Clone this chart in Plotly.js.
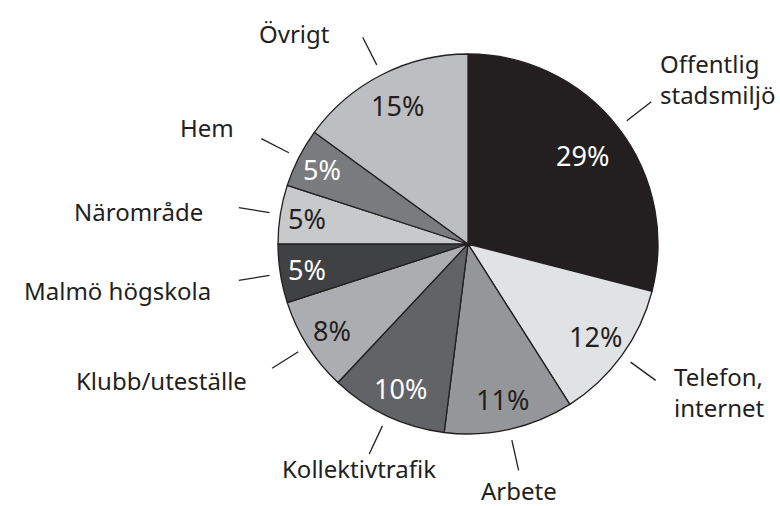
<!DOCTYPE html>
<html>
<head>
<meta charset="utf-8">
<script src="https://cdn.plot.ly/plotly-3.0.1.min.js"></script>
<style>html,body{margin:0;padding:0;background:#fff}#chart{width:780px;height:506px}</style>
</head>
<body>
<div id="chart"></div>
<script>
const labels = ['Offentlig<br>stadsmiljö','Telefon,<br>internet','Arbete','Kollektivtrafik','Klubb/uteställe','Malmö högskola','Närområde','Hem','Övrigt'];
const values = [29,12,11,10,8,5,5,5,15];
const colors = ['#231f20','#e1e2e4','#959699','#626366','#acadb0','#404143','#c8c9cb','#7a7b7e','#bdbec1'];
const pctColors = ['#ffffff','#231f20','#231f20','#ffffff','#231f20','#ffffff','#231f20','#ffffff','#231f20'];

// layout only: label anchor side and pixel nudge from the leader-line end
const labelAnchor = ['left','left','center','center','right','right','right','right','right'];
const labelNudge = [[7,-23],[16,12],[0,20],[-10,15],[-23,12],[-26,10],[-34,4],[-25,-11],[-31,-4]];

const W = 780, H = 506;
const cx = 468, cy = 244, R = 190;
const ink = '#231f20';
const font = 'Noto Sans, Open Sans, sans-serif';

const total = values.reduce((a,b)=>a+b,0);
const toPaper = (x,y) => ({x: x/W, y: 1 - y/H});
const pt = (theta, r) => ({x: cx + r*Math.sin(theta), y: cy - r*Math.cos(theta)});

const annotations = [], shapes = [];
let cum = 0;
values.forEach((v,i) => {
  const th = 2*Math.PI*(cum + v/2)/total;
  cum += v;
  // percentage label
  const rp = R*(0.88 - 0.004*v);
  const pp = pt(th, rp);
  const p = toPaper(pp.x, pp.y);
  annotations.push({xref:'paper', yref:'paper', x:p.x, y:p.y, text: v + '%', showarrow:false,
    xanchor:'center', yanchor:'middle', font:{family:font, size:27, color:pctColors[i]}});
  // leader line
  const a = pt(th, 201), b = pt(th, 232);
  const pa = toPaper(a.x,a.y), pb = toPaper(b.x,b.y);
  shapes.push({type:'line', xref:'paper', yref:'paper', x0:pa.x, y0:pa.y, x1:pb.x, y1:pb.y,
    line:{color:ink, width:1.3}});
  // category label
  const q = toPaper(b.x + labelNudge[i][0], b.y + labelNudge[i][1]);
  annotations.push({xref:'paper', yref:'paper', x:q.x, y:q.y, text: labels[i], showarrow:false,
    xanchor: labelAnchor[i], yanchor:'middle', align: labelAnchor[i],
    font:{family:font, size:24, color:ink}});
});

const trace = {
  type:'pie', values: values, labels: labels, sort:false, direction:'clockwise', rotation:0,
  marker:{colors: colors, line:{color: ink, width:1.3}},
  textinfo:'none', hoverinfo:'none', showlegend:false,
  domain:{x:[(cx-R)/W, (cx+R)/W], y:[(H-cy-R)/H, (H-cy+R)/H]}
};

Plotly.newPlot('chart', [trace], {
  width: W, height: H, margin:{l:0,r:0,t:0,b:0},
  paper_bgcolor:'#ffffff', plot_bgcolor:'#ffffff',
  showlegend:false, annotations: annotations, shapes: shapes
}, {staticPlot:true, displayModeBar:false});
</script>
</body>
</html>
